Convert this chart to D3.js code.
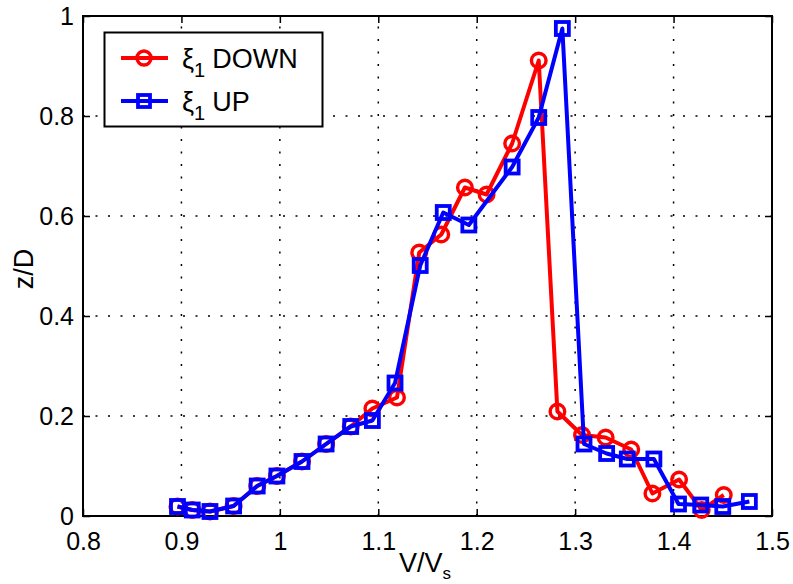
<!DOCTYPE html>
<html><head><meta charset="utf-8">
<script src="https://cdn.jsdelivr.net/npm/d3@7"></script>
<style>
html,body{margin:0;padding:0;background:#fff;}
svg{display:block;font-family:"Liberation Sans",Arial,sans-serif;}
</style></head>
<body><svg id="chart" width="793" height="584"></svg>
<script>
const seriesNames = ["DOWN", "UP"];
const downX = [0.896,0.911,0.929,0.953,0.977,0.997,1.0225,1.047,1.072,1.094,1.119,1.1416,1.164,1.188,1.21,1.236,1.263,1.282,1.307,1.331,1.357,1.3785,1.4056,1.4286,1.451];
const downY = [0.019,0.012,0.009,0.020,0.060,0.080,0.109,0.144,0.179,0.215,0.237,0.527,0.563,0.657,0.643,0.745,0.911,0.209,0.162,0.157,0.133,0.045,0.073,0.012,0.042];
const upX = [0.896,0.911,0.929,0.953,0.977,0.997,1.0225,1.047,1.072,1.094,1.117,1.1426,1.166,1.192,1.236,1.263,1.287,1.309,1.332,1.353,1.380,1.405,1.4276,1.450,1.477];
const upY = [0.019,0.012,0.009,0.020,0.060,0.080,0.109,0.144,0.179,0.191,0.266,0.501,0.607,0.582,0.698,0.797,0.975,0.144,0.125,0.114,0.114,0.024,0.022,0.019,0.029];
const xTicks = [0.8,0.9,1,1.1,1.2,1.3,1.4,1.5];
const yTicks = [0,0.2,0.4,0.6,0.8,1];

const svg = d3.select("#chart");
const L = 83, R = 772, T = 16, B = 516;
const x = d3.scaleLinear().domain([0.8,1.5]).range([L,R]);
const y = d3.scaleLinear().domain([0,1]).range([B,T]);

// grid
const grid = svg.append("g");
grid.selectAll(".gx").data(xTicks.slice(1,-1)).enter().append("line")
  .attr("x1",d=>x(d)).attr("x2",d=>x(d)).attr("y1",B).attr("y2",T)
  .attr("stroke","#000").attr("stroke-width",1.5).attr("stroke-dasharray","2,10.5");
grid.selectAll(".gy").data(yTicks.slice(1,-1)).enter().append("line")
  .attr("y1",d=>y(d)).attr("y2",d=>y(d)).attr("x1",L).attr("x2",R)
  .attr("stroke","#000").attr("stroke-width",1.5).attr("stroke-dasharray","2,10.5");

// axes
const fmt = d=> d3.format("")(+d.toFixed(1));
const axB = svg.append("g").attr("transform",`translate(0,${B})`)
  .call(d3.axisBottom(x).tickValues(xTicks).tickSizeInner(-7).tickSizeOuter(0).tickPadding(16).tickFormat(fmt));
const axT = svg.append("g").attr("transform",`translate(0,${T})`)
  .call(d3.axisTop(x).tickValues(xTicks).tickSizeInner(-7).tickSizeOuter(0).tickFormat(""));
const axL = svg.append("g").attr("transform",`translate(${L},0)`)
  .call(d3.axisLeft(y).tickValues(yTicks).tickSizeInner(-7).tickSizeOuter(0).tickPadding(16).tickFormat(fmt));
const axR = svg.append("g").attr("transform",`translate(${R},0)`)
  .call(d3.axisRight(y).tickValues(yTicks).tickSizeInner(-7).tickSizeOuter(0).tickFormat(""));
[axB,axT,axL,axR].forEach(a=>{
  a.select(".domain").remove();
  a.selectAll("line").attr("stroke","#000").attr("stroke-width",1.5);
  a.selectAll("text").attr("font-size",25).attr("fill","#000").attr("font-family","Liberation Sans, Arial, sans-serif");
});
axB.selectAll("text").attr("dy","0.71em").attr("y",16);
axL.selectAll("text").attr("dy","0.35em").attr("x",-9);
svg.append("rect").attr("x",L).attr("y",T).attr("width",R-L).attr("height",B-T)
  .attr("fill","none").attr("stroke","#000").attr("stroke-width",2);

// series
const line = d3.line().x(d=>x(d[0])).y(d=>y(d[1]));
const down = downX.map((v,i)=>[v,downY[i]]);
const up = upX.map((v,i)=>[v,upY[i]]);
svg.append("path").datum(down).attr("d",line).attr("fill","none").attr("stroke","#ff0000").attr("stroke-width",4).attr("stroke-linejoin","round");
svg.selectAll(".mc").data(down).enter().append("circle")
  .attr("cx",d=>x(d[0])).attr("cy",d=>y(d[1])).attr("r",7.3)
  .attr("fill","none").attr("stroke","#ff0000").attr("stroke-width",3.4);
svg.append("path").datum(up).attr("d",line).attr("fill","none").attr("stroke","#0000ff").attr("stroke-width",4).attr("stroke-linejoin","round");
const s = 13;
svg.selectAll(".ms").data(up).enter().append("rect")
  .attr("x",d=>x(d[0])-s/2).attr("y",d=>y(d[1])-s/2).attr("width",s).attr("height",s)
  .attr("fill","none").attr("stroke","#0000ff").attr("stroke-width",3.8);

// axis labels
const xl = svg.append("text").attr("x",399).attr("y",572).attr("font-size",27).attr("fill","#000");
xl.append("tspan").text("V/V");
xl.append("tspan").attr("font-size",17).attr("dy",7).text("s");
svg.append("text").attr("transform","translate(33,269) rotate(-90)").attr("text-anchor","middle")
  .attr("font-size",27).attr("fill","#000").text("z/D");

// legend
const lg = svg.append("g");
lg.append("rect").attr("x",104.5).attr("y",32.5).attr("width",218).attr("height",94)
  .attr("fill","#fff").attr("stroke","#000").attr("stroke-width",2);
const items = [{name:seriesNames[0],color:"#ff0000",ly:58,m:"c"},{name:seriesNames[1],color:"#0000ff",ly:101,m:"s"}];
items.forEach(it=>{
  lg.append("line").attr("x1",121).attr("x2",168).attr("y1",it.ly).attr("y2",it.ly).attr("stroke",it.color).attr("stroke-width",4);
  if(it.m==="c") lg.append("circle").attr("cx",144).attr("cy",it.ly).attr("r",7).attr("fill","none").attr("stroke",it.color).attr("stroke-width",3.4);
  else lg.append("rect").attr("x",144-6).attr("y",it.ly-6).attr("width",12).attr("height",12).attr("fill","none").attr("stroke",it.color).attr("stroke-width",3.8);
  const t = lg.append("text").attr("x",182).attr("y",it.ly+10).attr("font-size",27).attr("fill","#000");
  t.append("tspan").text("ξ");
  t.append("tspan").attr("font-size",20).attr("dy",9).text("1");
  t.append("tspan").attr("dy",-9).attr("dx",7).text(it.name);
});
</script></body></html>
